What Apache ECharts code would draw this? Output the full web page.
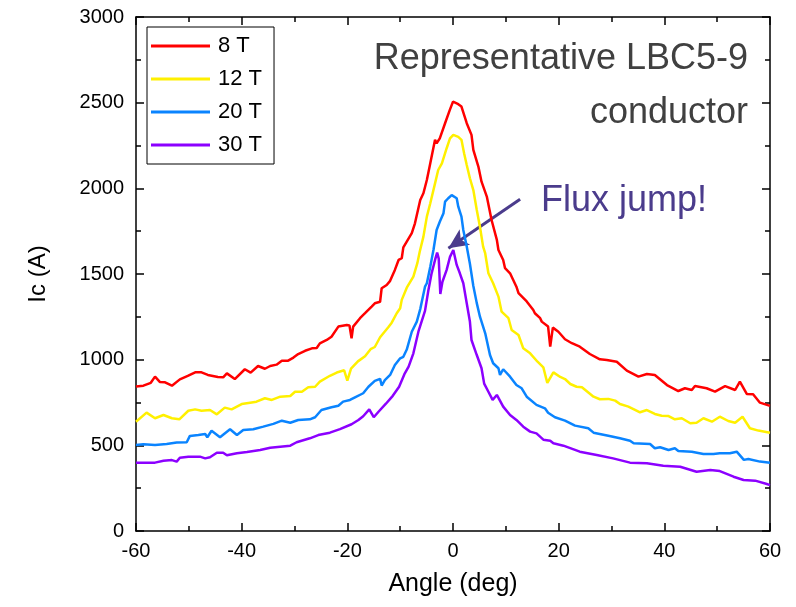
<!DOCTYPE html>
<html>
<head>
<meta charset="utf-8">
<script src="https://cdn.jsdelivr.net/npm/echarts@6/dist/echarts.min.js"></script>
<style>
html,body{margin:0;padding:0;background:#fff;}
#chart{width:796px;height:607px;}
</style>
</head>
<body>
<div id="chart"></div>
<script>
// ---- Data ----
const seriesNames = ['8 T', '12 T', '20 T', '30 T'];
const seriesColors = ['#FF0000', '#FFF000', '#0A84FF', '#8C00FF'];

const angle8 = [-60,-58.6,-57.2,-56.4,-55.5,-54.5,-53.2,-51.7,-50.2,-48.8,-47.6,-46.4,-44.5,-43.5,-42.8,-41.3,-39.4,-38.3,-36.9,-35.6,-34.6,-33.4,-32.4,-31.2,-30.2,-29.3,-28,-26.7,-25.8,-25.2,-23.9,-23,-21.7,-20.1,-19.6,-19.2,-18.9,-17.6,-16.65,-15.4,-14.8,-13.8,-13.5,-12.55,-11.9,-11,-10.3,-9.7,-9.4,-7.8,-7.2,-6.2,-5.6,-4.95,-4.3,-3.4,-3.1,-2.5,-1.5,-0.6,0,0.8,1.6,2.6,3.5,3.85,4.8,5.4,6.4,7.3,8.3,8.6,9.5,9.85,10.8,11.4,12,12.4,13.95,15.2,15.5,16.5,16.8,18,18.4,18.9,19.95,21.2,22.5,24,25.9,27.8,29.1,31,32.9,35.1,36.7,38.2,40.5,42.65,43.9,45.2,45.8,48,49.6,51.5,53.4,54.3,55.6,56.8,58.1,60];
const ic8 = [843,848,865,901,870,868,848,885,905,926,926,911,899,897,920,887,944,924,963,947,963,971,994,994,1012,1033,1052,1066,1068,1095,1115,1134,1193,1202,1200,1125,1193,1242,1271,1310,1329,1338,1417,1436,1460,1524,1582,1592,1655,1738,1796,1932,1971,2049,2146,2283,2263,2292,2380,2458,2506,2495,2477,2380,2312,2224,2127,2039,1952,1815,1699,1640,1582,1534,1504,1465,1426,1388,1340,1290,1271,1242,1222,1193,1076,1187,1163,1119,1096,1076,1033,1002,998,988,936,901,916,911,852,817,833,823,846,833,813,846,823,872,800,798,749,730];

const angle12 = [-60,-58,-56.4,-54.8,-53.2,-51.8,-50.1,-48.8,-47.6,-46,-44.7,-43.2,-41.9,-40,-38.4,-37.2,-35.6,-34.3,-32.7,-30.8,-29.9,-28.6,-27.4,-26.1,-25.2,-23.3,-22,-20.6,-20,-19.3,-18,-16.65,-15.6,-14.8,-13.8,-12.25,-11.6,-10.65,-10,-9.7,-8.75,-7.5,-6.75,-6.3,-5.6,-4.95,-4.3,-3.4,-2.8,-2.1,-1.2,-0.57,0.06,1,1.6,2.1,2.6,3.2,3.85,4.5,5.1,5.7,6.1,6.7,7.6,8.6,9.2,10.5,11.1,12.4,13.3,14.6,16,17.1,17.85,19,20.3,21.2,22.2,23.4,24.4,26.6,27.8,29.4,30.7,31.6,33.2,35.4,36.7,38.2,39.5,40.8,42,43.3,44.9,46.1,47.4,49,50.5,52.1,53.4,54.8,56.2,57.8,60];
const ic12 = [638,691,658,677,658,652,702,710,702,706,681,720,710,741,749,755,775,765,784,788,813,813,839,842,872,906,925,938,878,948,990,1020,1061,1074,1131,1189,1216,1271,1300,1349,1420,1485,1563,1630,1718,1835,1913,2029,2107,2146,2234,2292,2312,2300,2283,2205,2136,2059,1990,1874,1776,1660,1620,1504,1446,1368,1280,1242,1173,1144,1066,1037,988,955,864,926,899,887,858,842,839,784,769,771,761,741,726,693,706,683,673,671,652,658,629,632,658,638,667,642,632,667,600,586,574];

const angle20 = [-60,-58.6,-56.4,-54.2,-52.3,-50.4,-49.8,-48.2,-46.9,-46.5,-45.7,-44.1,-42.2,-40.9,-39.7,-37.8,-35.9,-34,-32.4,-30.8,-29.3,-27.1,-26.1,-24.9,-23,-21.7,-20.8,-19.5,-18.55,-17,-16,-14.8,-13.8,-13.5,-12.9,-11.9,-11,-10,-9.4,-8.75,-7.8,-6.85,-6.2,-5.3,-4.95,-4.3,-3.7,-3.1,-2.5,-1.8,-1.5,-0.9,-0.25,0.06,0.7,1,1.6,1.95,2.6,3.2,3.85,4.5,5.1,6.1,7,7.6,8.6,8.9,9.5,10.8,12,13,13.95,15.8,17.4,18,19.3,21.2,23.1,25.6,26.6,29.4,31.6,33.5,34.2,37.3,38.2,39.2,40.8,42,42.65,45.2,47.4,49.3,50.5,52.4,53.7,55.05,55.9,58.1,60];
const ic20 = [502,506,502,508,516,518,555,560,566,547,585,547,594,560,590,594,609,625,644,632,648,652,664,706,722,731,755,765,780,804,842,876,888,849,881,911,969,1008,1017,1059,1163,1222,1295,1426,1446,1543,1640,1757,1805,1855,1922,1942,1960,1971,1942,1893,1835,1757,1660,1560,1430,1330,1251,1154,1027,979,950,911,944,901,852,833,784,736,716,690,664,644,615,600,574,556,541,527,512,508,483,489,473,483,467,463,450,450,454,454,463,415,420,405,399];

const angle30 = [-60,-56.4,-54.8,-53.2,-52.3,-51.7,-50.1,-47.9,-46.9,-46,-44.7,-43.5,-42.8,-40.9,-39,-36.5,-34.6,-32.7,-30.8,-29.6,-27.1,-25.5,-23.3,-21.4,-19.2,-17.9,-17,-15.85,-15,-14.1,-12.7,-11.4,-10.2,-9.2,-8.4,-7.5,-6.55,-5.3,-4.65,-4.05,-3.4,-3,-2.7,-2.4,-2,-1.2,-0.57,0.06,0.7,1.3,1.95,2.6,3.2,3.5,4.5,5.4,5.9,6.7,7.5,8.3,9.5,10.8,12,13.3,14.6,15.8,17.1,18.4,19,20.9,24,27.2,30.3,33.5,36.7,39.8,43,46.1,48.7,50.5,53.1,55,57.2,59.4,60];
const ic30 = [399,399,410,414,405,428,434,434,424,430,457,457,442,454,461,473,486,492,498,518,541,560,574,595,623,648,670,710,664,696,743,789,842,915,959,1037,1163,1285,1407,1504,1582,1625,1590,1383,1455,1524,1600,1640,1553,1504,1446,1329,1222,1115,1027,950,860,813,765,794,726,677,648,609,580,570,533,527,512,498,463,444,424,399,395,381,375,346,356,350,317,298,294,274,268];

const xTicks = {min: -60, max: 60, interval: 20};
const yTicks = {min: 0, max: 3000, interval: 500};

// annotation arrow (data coordinates of start and tip)
const arrowFrom = [12.7, 1936];
const arrowTo = [-0.87, 1650];

const anglesAll = [angle8, angle12, angle20, angle30];
const icAll = [ic8, ic12, ic20, ic30];

function zip(a, b) { return a.map((v, i) => [v, b[i]]); }

const chart = echarts.init(document.getElementById('chart'), null, {renderer: 'canvas'});

const axisCommon = {
  axisLine: {show: true, onZero: false, lineStyle: {color: '#000', width: 1.5}},
  axisTick: {show: true, inside: true, length: 8, lineStyle: {color: '#000', width: 1.5}},
  minorTick: {show: true, splitNumber: 2, length: 5, lineStyle: {color: '#000', width: 1.5}},
  splitLine: {show: false},
  minorSplitLine: {show: false}
};

const plainNum = v => String(v);

const series = seriesNames.map((name, i) => {
  const s = {
    name: name,
    type: 'line',
    data: zip(anglesAll[i], icAll[i]),
    showSymbol: false,
    symbol: 'none',
    smooth: false,
    color: seriesColors[i],
    lineStyle: {width: 2.5, color: seriesColors[i]},
    z: 10 - i,
    animation: false
  };
  if (i === 3) {
    s.markLine = {
      silent: true,
      symbol: ['none', 'arrow'],
      symbolSize: [14, 20],
      label: {show: false},
      lineStyle: {color: '#4B3C8C', width: 3, type: 'solid'},
      data: [[{coord: arrowFrom}, {coord: arrowTo}]],
      animation: false
    };
  }
  return s;
});

const option = {
  backgroundColor: '#ffffff',
  animation: false,
  textStyle: {fontFamily: 'Liberation Sans, Arial, sans-serif'},
  grid: {left: 136, right: 26, top: 17, bottom: 76, containLabel: false},
  legend: {
    show: true,
    orient: 'vertical',
    left: 147,
    top: 27,
    data: seriesNames,
    icon: 'rect',
    itemWidth: 59,
    itemHeight: 3,
    itemGap: 11,
    padding: [8, 12, 8, 4],
    borderColor: '#000',
    borderWidth: 1,
    backgroundColor: '#fff',
    textStyle: {fontSize: 22, color: '#000', fontFamily: 'Liberation Sans, Arial, sans-serif', lineHeight: 22, padding: [0, 0, 0, 3]}
  },
  xAxis: [
    Object.assign({
      type: 'value', position: 'bottom', min: xTicks.min, max: xTicks.max, interval: xTicks.interval,
      name: 'Angle (deg)', nameLocation: 'middle', nameGap: 41,
      nameTextStyle: {fontSize: 25, color: '#000'},
      axisLabel: {show: true, fontSize: 20, color: '#000', margin: 10, formatter: plainNum}
    }, axisCommon),
    Object.assign({
      type: 'value', position: 'top', min: xTicks.min, max: xTicks.max, interval: xTicks.interval,
      axisLabel: {show: false}
    }, axisCommon)
  ],
  yAxis: [
    Object.assign({
      type: 'value', position: 'left', min: yTicks.min, max: yTicks.max, interval: yTicks.interval,
      name: 'Ic (A)', nameLocation: 'middle', nameGap: 86, nameRotate: 90,
      nameTextStyle: {fontSize: 24, color: '#000'},
      axisLabel: {show: true, fontSize: 20, color: '#000', margin: 12, formatter: plainNum}
    }, axisCommon),
    Object.assign({
      type: 'value', position: 'right', min: yTicks.min, max: yTicks.max, interval: yTicks.interval,
      axisLabel: {show: false}
    }, axisCommon)
  ],
  series: series,
  graphic: [
    {type: 'text', right: 48, top: 41, z: 100,
     style: {text: 'Representative LBC5-9', fill: '#404040', font: '36px "Liberation Sans", Arial, sans-serif'}},
    {type: 'text', right: 48, top: 95, z: 100,
     style: {text: 'conductor', fill: '#404040', font: '36px "Liberation Sans", Arial, sans-serif'}},
    {type: 'text', left: 541, top: 183, z: 100,
     style: {text: 'Flux jump!', fill: '#4B3C8C', font: '36px "Liberation Sans", Arial, sans-serif'}}
  ]
};

chart.setOption(option);
</script>
</body>
</html>
